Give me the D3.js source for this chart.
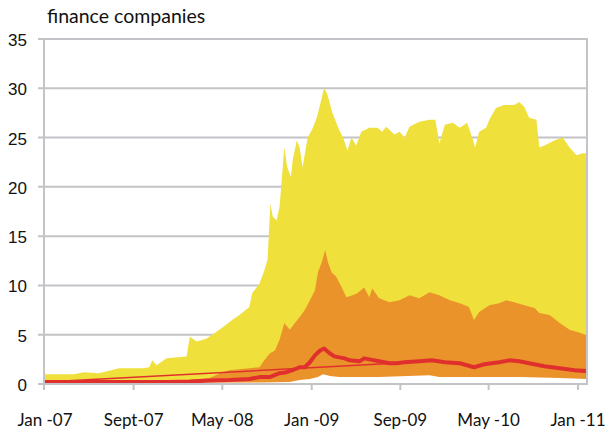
<!DOCTYPE html>
<html><head><meta charset="utf-8">
<script src="https://cdn.jsdelivr.net/npm/d3@7"></script>
<style>body{margin:0;background:#fff}svg{display:block}</style>
</head><body><svg id="c" width="608" height="434"></svg>
<script>
const title = "finance companies";
const yTicks = [0,5,10,15,20,25,30,35];
const xTickDates = ["2007-01-01","2007-09-01","2008-05-01","2009-01-01","2009-09-01","2010-05-01","2011-01-01"];
const xTickLabels = ["Jan -07","Sept-07","May -08","Jan -09","Sep-09","May -10","Jan -11"];

// maximum (yellow top)
const maxDates = ["2007-01-01","2007-03-21","2007-04-18","2007-05-29","2007-07-23","2007-09-25","2007-10-14","2007-10-22","2007-11-03","2007-11-30","2008-01-24","2008-02-02","2008-02-21","2008-03-18","2008-04-23","2008-05-28","2008-06-17","2008-07-14","2008-07-22","2008-08-11","2008-08-24","2008-09-02","2008-09-10","2008-09-16","2008-09-27","2008-10-05","2008-10-18","2008-10-26","2008-11-05","2008-11-10","2008-11-21","2008-11-29","2008-12-07","2008-12-21","2009-01-02","2009-01-15","2009-01-29","2009-02-04","2009-02-12","2009-02-27","2009-03-17","2009-03-28","2009-04-09","2009-04-20","2009-05-03","2009-05-17","2009-06-08","2009-06-30","2009-07-13","2009-07-24","2009-08-16","2009-08-30","2009-09-13","2009-09-26","2009-10-23","2009-11-20","2009-12-06","2009-12-17","2010-01-01","2010-01-23","2010-02-11","2010-03-03","2010-03-17","2010-03-25","2010-04-05","2010-04-24","2010-05-03","2010-05-21","2010-06-13","2010-07-10","2010-07-24","2010-08-07","2010-08-20","2010-09-09","2010-09-17","2010-10-01","2010-10-28","2010-11-20","2010-12-09","2010-12-28","2011-01-14","2011-01-28"];
const maxValues = [1.0,1.0,1.2,1.1,1.6,1.6,1.7,2.4,1.9,2.6,2.8,4.8,4.3,4.6,5.5,6.5,7.0,7.8,9.2,10.2,11.5,12.6,18.3,17.0,16.6,18.0,24.0,22.0,21.0,22.7,24.7,24.0,22.0,25.0,25.8,27.0,29.1,30.0,29.5,27.5,25.8,25.0,23.7,25.0,24.2,25.6,26.0,26.0,25.6,26.1,25.3,25.6,25.0,26.1,26.6,26.8,26.8,24.4,26.3,26.5,26.0,26.5,25.0,24.0,25.6,26.0,26.8,28.0,28.3,28.3,28.6,28.1,27.0,26.8,24.0,24.2,24.7,25.0,24.0,23.2,23.4,23.4];

// upper band (orange top)
const upperDates = ["2007-01-01","2007-06-01","2007-12-01","2008-02-02","2008-03-27","2008-05-01","2008-05-20","2008-07-14","2008-08-11","2008-08-24","2008-09-08","2008-09-22","2008-10-05","2008-10-18","2008-11-02","2008-11-16","2008-11-29","2008-12-13","2008-12-27","2009-01-10","2009-01-18","2009-01-29","2009-02-07","2009-02-15","2009-02-25","2009-03-09","2009-03-26","2009-04-06","2009-04-23","2009-05-06","2009-05-25","2009-06-08","2009-06-16","2009-07-05","2009-08-02","2009-08-30","2009-09-26","2009-10-23","2009-11-20","2009-12-17","2010-01-15","2010-02-11","2010-03-08","2010-03-22","2010-04-05","2010-05-03","2010-05-30","2010-06-18","2010-07-10","2010-08-07","2010-09-04","2010-09-17","2010-10-15","2010-11-12","2010-12-09","2011-01-06","2011-01-28"];
const upperValues = [0.2,0.25,0.3,0.4,0.6,1.2,1.4,1.6,1.7,2.4,3.1,3.4,4.5,6.2,5.5,6.2,6.8,7.5,8.5,9.5,11.3,12.4,13.6,12.3,11.3,10.9,9.7,8.8,9.0,9.2,9.8,8.8,9.7,8.7,8.3,8.5,9.0,8.7,9.3,9.0,8.5,8.2,7.8,6.5,7.3,8.0,8.2,8.5,8.3,8.0,7.7,7.2,7.0,6.2,5.5,5.2,4.9];

// lower band (bottom of the bands)
const lowerDates = ["2007-01-01","2008-08-15","2008-11-02","2008-11-29","2008-12-27","2009-01-18","2009-02-01","2009-02-20","2009-03-17","2009-07-05","2009-11-20","2009-12-17","2010-04-05","2010-07-24","2010-11-12","2011-01-28"];
const lowerValues = [0.1,0.15,0.2,0.4,0.5,0.7,1.0,0.8,0.7,0.7,0.9,0.7,0.7,0.7,0.6,0.5];

// median (thick red)
const medianDates = ["2007-01-01","2007-12-01","2008-02-02","2008-03-27","2008-05-20","2008-07-14","2008-08-11","2008-09-08","2008-10-05","2008-10-24","2008-11-10","2008-11-29","2008-12-13","2008-12-27","2009-01-10","2009-01-24","2009-02-04","2009-02-20","2009-03-04","2009-04-01","2009-04-15","2009-05-12","2009-05-25","2009-06-08","2009-07-05","2009-08-02","2009-08-22","2009-09-13","2009-10-23","2009-11-26","2010-01-01","2010-02-11","2010-03-22","2010-04-19","2010-05-30","2010-06-27","2010-07-24","2010-08-20","2010-10-01","2010-11-12","2010-12-23","2011-01-28"];
const medianValues = [0.2,0.2,0.25,0.35,0.4,0.5,0.7,0.7,1.1,1.2,1.4,1.7,1.7,2.2,2.9,3.4,3.6,3.1,2.8,2.6,2.4,2.3,2.6,2.5,2.3,2.1,2.1,2.2,2.3,2.4,2.2,2.1,1.7,2.0,2.2,2.4,2.3,2.1,1.8,1.6,1.4,1.3];

// thin trend line
const trendDates = ["2007-01-01","2009-08-15"];
const trendValues = [0.2,2.1];

const parse = d3.timeParse("%Y-%m-%d");
const zip = (ds, vs) => ds.map((d,i)=>({date:parse(d), v:vs[i]}));

const svg = d3.select("#c");
const L = 44, R = 587, T = 39, B = 384;
const x = d3.scaleTime().domain([parse("2007-01-01"), parse("2011-01-01")]).range([45, 578]);
const y = d3.scaleLinear().domain([0,35]).range([B, T]);
const grid = "#c4c4c8";

svg.append("defs").append("clipPath").attr("id","clip")
  .append("rect").attr("x",L).attr("y",T-5).attr("width",R-L).attr("height",B-T+5);

// gridlines
svg.append("g").selectAll("line").data(yTicks.filter(t=>t>0)).join("line")
  .attr("x1",L-6).attr("x2",R).attr("y1",d=>y(d)).attr("y2",d=>y(d))
  .attr("stroke",grid).attr("stroke-width",2);

const plot = svg.append("g").attr("clip-path","url(#clip)");
const area = d3.area().x(d=>x(d.date)).y0(y(0)).y1(d=>y(d.v));
const line = d3.line().x(d=>x(d.date)).y(d=>y(d.v));

plot.append("path").datum(zip(maxDates,maxValues)).attr("d",area).attr("fill","#efe03c");
plot.append("path").datum(zip(upperDates,upperValues)).attr("d",area).attr("fill","#eb932b");
plot.append("path").datum(zip(lowerDates,lowerValues)).attr("d",area).attr("fill","#ffffff");
plot.append("path").datum(zip(trendDates,trendValues)).attr("d",line)
  .attr("fill","none").attr("stroke","#e0302e").attr("stroke-width",1.5);
plot.append("path").datum(zip(medianDates,medianValues)).attr("d",line)
  .attr("fill","none").attr("stroke","#e0302e").attr("stroke-width",4).attr("stroke-linejoin","round");

// axes lines
svg.append("line").attr("x1",L-6).attr("x2",R).attr("y1",B).attr("y2",B).attr("stroke",grid).attr("stroke-width",2);
svg.append("line").attr("x1",L).attr("x2",L).attr("y1",T-1).attr("y2",B+6).attr("stroke",grid).attr("stroke-width",2);
svg.append("line").attr("x1",R).attr("x2",R).attr("y1",T-1).attr("y2",B+1).attr("stroke",grid).attr("stroke-width",2);

// x ticks
svg.append("g").selectAll("line").data(xTickDates.slice(1)).join("line")
  .attr("x1",d=>x(parse(d))).attr("x2",d=>x(parse(d))).attr("y1",B).attr("y2",B+6)
  .attr("stroke",grid).attr("stroke-width",2);

// y labels
svg.append("g").selectAll("text").data(yTicks).join("text")
  .attr("x",27).attr("y",d=>y(d)+7).attr("text-anchor","end")
  .attr("font-family","Liberation Sans, Arial, sans-serif").attr("font-size",17).attr("fill","#111")
  .text(d=>d);

// x labels
svg.append("g").selectAll("text").data(xTickDates).join("text")
  .attr("x",d=>x(parse(d))).attr("y",426).attr("text-anchor","middle")
  .attr("font-family","Lato, sans-serif").attr("font-size",17).attr("fill","#111")
  .text((d,i)=>xTickLabels[i]);

svg.append("text").attr("x",47).attr("y",23)
  .attr("font-family","Lato, sans-serif").attr("font-size",19.5).attr("fill","#111").text(title);
</script>
</body></html>
